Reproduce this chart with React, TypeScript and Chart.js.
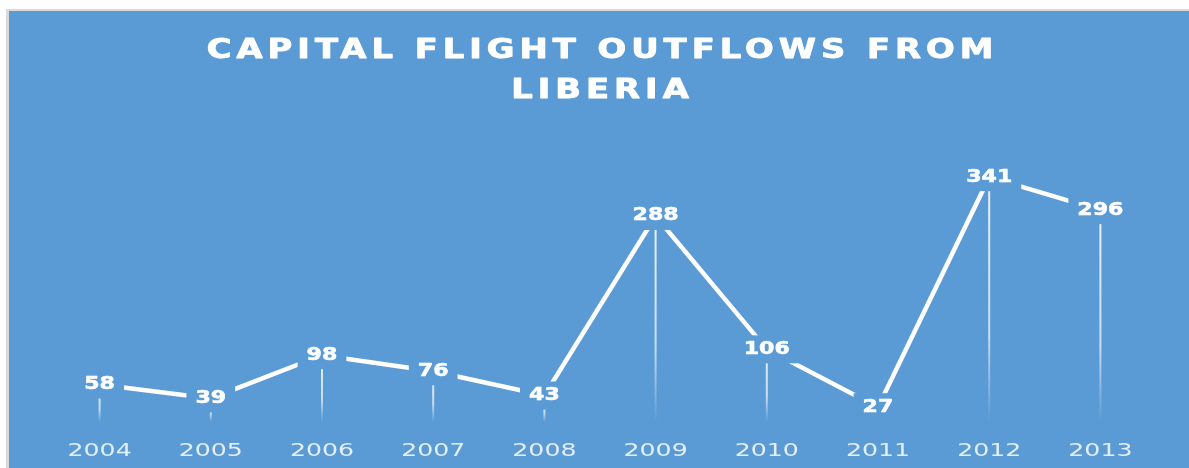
import React, { useEffect, useRef } from 'react';
import { Chart, registerables } from 'chart.js';

Chart.register(...registerables);

const years = ['2004', '2005', '2006', '2007', '2008', '2009', '2010', '2011', '2012', '2013'];
const outflows = [58, 39, 98, 76, 43, 288, 106, 27, 341, 296];
const titleLines = ['CAPITAL FLIGHT OUTFLOWS FROM', 'LIBERIA'];

const BG = '#5B9BD5';
const FAMILY = "'DejaVu Sans', sans-serif";

// horizontal text widening (the reference text is drawn wide)
type TextStyle = { stretch: number; spacing: number; stroke: number };
const PLAIN: TextStyle = { stretch: 1, spacing: 0, stroke: 0 };
const TITLE_STYLE: TextStyle = { stretch: 1.25, spacing: 4, stroke: 0.9 };
const TICK_STYLE: TextStyle = { stretch: 1.4, spacing: 0, stroke: 0 };
const LABEL_STYLE: TextStyle = { stretch: 1.3, spacing: 0, stroke: 0.5 };

let style: TextStyle = PLAIN;

const decorPlugin = {
  id: 'decor',
  beforeDraw(chart: any) {
    const ctx = chart.ctx as any;
    if (!ctx.__patched) {
      const orig = ctx.fillText;
      ctx.fillText = function (text: string, x: number, y: number, maxW?: number) {
        if (style === PLAIN) {
          return maxW === undefined ? orig.call(this, text, x, y) : orig.call(this, text, x, y, maxW);
        }
        this.save();
        this.translate(x + (style.spacing * style.stretch) / 2, y);
        this.scale(style.stretch, 1);
        this.letterSpacing = style.spacing + 'px';
        if (style.stroke > 0) {
          this.strokeStyle = this.fillStyle;
          this.lineWidth = style.stroke;
          this.lineJoin = 'round';
          this.strokeText(text, 0, 0);
        }
        orig.call(this, text, 0, 0);
        this.restore();
      };
      ctx.__patched = true;
    }
    style = TITLE_STYLE;
  },
  beforeDatasetsDraw(chart: any) {
    style = PLAIN;
    const ctx = chart.ctx as any;
    const meta = chart.getDatasetMeta(0);
    const bottom = chart.chartArea.bottom - 5;
    ctx.save();
    ctx.lineWidth = 2;
    meta.data.forEach((pt: any) => {
      const g = ctx.createLinearGradient(0, pt.y, 0, bottom);
      g.addColorStop(0, 'rgba(255,255,255,0.88)');
      g.addColorStop(0.65, 'rgba(255,255,255,0.65)');
      g.addColorStop(1, 'rgba(255,255,255,0)');
      ctx.strokeStyle = g;
      ctx.beginPath();
      ctx.moveTo(pt.x, pt.y);
      ctx.lineTo(pt.x, bottom);
      ctx.stroke();
    });
    ctx.restore();
  },
  afterDatasetsDraw(chart: any) {
    const ctx = chart.ctx as any;
    const meta = chart.getDatasetMeta(0);
    const values = chart.data.datasets[0].data as number[];
    ctx.save();
    ctx.font = `bold 17px ${FAMILY}`;
    ctx.textAlign = 'center';
    ctx.textBaseline = 'middle';
    meta.data.forEach((pt: any, i: number) => {
      const txt = String(values[i]);
      const w = ctx.measureText(txt).width * LABEL_STYLE.stretch;
      const padX = 9;
      const halfH = 14;
      ctx.fillStyle = BG;
      ctx.fillRect(pt.x - w / 2 - padX, pt.y - halfH, w + padX * 2, halfH * 2);
      ctx.fillStyle = '#ffffff';
      style = LABEL_STYLE;
      ctx.fillText(txt, pt.x, pt.y);
      style = PLAIN;
    });
    ctx.restore();
    style = TICK_STYLE;
  },
  afterDraw() {
    style = PLAIN;
  },
};

export default function App() {
  const ref = useRef<HTMLCanvasElement>(null);

  useEffect(() => {
    const chart = new Chart(ref.current as HTMLCanvasElement, {
      type: 'line',
      data: {
        labels: years,
        datasets: [
          {
            label: 'Capital flight outflows',
            data: outflows,
            borderColor: '#ffffff',
            borderWidth: 4.5,
            borderCapStyle: 'butt',
            borderJoinStyle: 'miter',
            pointRadius: 0,
            pointHoverRadius: 0,
            tension: 0,
            fill: false,
            clip: false as any,
          },
        ],
      },
      options: {
        animation: false,
        responsive: true,
        maintainAspectRatio: false,
        layout: { padding: { left: 35, right: 33, top: 0, bottom: 0 } },
        plugins: {
          legend: { display: false },
          tooltip: { enabled: false },
          title: {
            display: true,
            text: titleLines,
            color: '#ffffff',
            font: { family: FAMILY, size: 27, weight: 'bold', lineHeight: 1.48 },
            padding: { top: 20, bottom: 23 },
          },
        },
        scales: {
          x: {
            offset: true,
            grid: { display: false, drawTicks: false },
            border: { display: false },
            afterFit: (scale: any) => {
              scale.height = 41;
            },
            ticks: {
              z: 1,
              color: 'rgba(240,245,252,0.92)',
              font: { family: FAMILY, size: 18 },
              padding: 14,
              maxRotation: 0,
              autoSkip: false,
            },
          },
          y: {
            display: false,
            min: 0,
            max: 400,
          },
        },
      },
      plugins: [decorPlugin],
    });
    return () => chart.destroy();
  }, []);

  return (
    <div style={{ position: 'fixed', inset: 0, overflow: 'hidden', background: '#ffffff' }}>
      <div
        style={{
          position: 'absolute',
          left: 6,
          top: 9,
          width: 1183,
          height: 459,
          boxSizing: 'border-box',
          borderLeft: '3px solid #d9d9d9',
          borderTop: '2px solid #d9d9d9',
          background: BG,
        }}
      >
        <div style={{ position: 'relative', width: 1180, height: 457 }}>
          <canvas ref={ref} />
        </div>
      </div>
    </div>
  );
}
